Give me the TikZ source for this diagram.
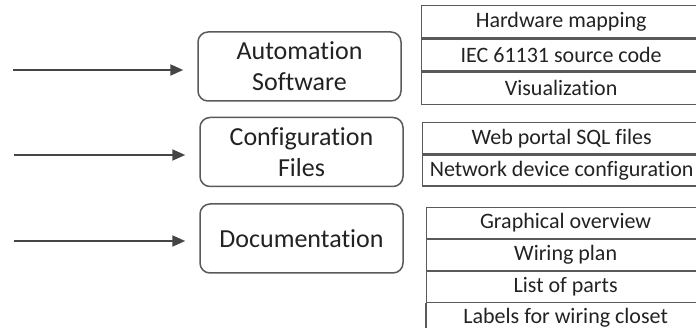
\documentclass[tikz,border=0pt]{standalone}
\usepackage{fontspec}
\setmainfont{Carlito}[Ligatures=NoCommon]
\usetikzlibrary{arrows.meta}
\definecolor{lineg}{HTML}{5A5A5A}
\definecolor{arrg}{HTML}{454545}
\definecolor{txt}{HTML}{222222}
\tikzset{
  mainbox/.style={draw=lineg, line width=1.5pt, rounded corners=10pt, minimum width=203pt, minimum height=69pt, align=center, text=txt, font=\fontsize{26}{31}\selectfont, inner sep=0pt},
  rowbox/.style={draw=lineg, line width=1.3pt, minimum height=32pt, anchor=north west, text=txt, font=\fontsize{22}{26}\selectfont, inner sep=0pt},
  tableline/.style={draw=lineg, line width=1.3pt},
  feed/.style={draw=arrg, line width=2pt, -{Triangle[length=13pt,width=11pt]}, shorten >=14pt}
}
\begin{document}
\begin{tikzpicture}[x=1pt,y=-1pt]
\useasboundingbox (0,0) rectangle (696,328);
\clip (0,0) rectangle (696,328);
% main boxes
\node[mainbox] (b1) at (299.5,66.5) {Automation\\Software};
\node[mainbox] (b2) at (301.5,152) {Configuration\\Files};
\node[mainbox] (b3) at (301.5,238.5) {Documentation};
% arrow starts
\coordinate (s1) at (13,70);
\coordinate (s2) at (14,155);
\coordinate (s3) at (14,241);
\draw[feed] (s1) -- (s1 -| b1.west);
\draw[feed] (s2) -- (s2 -| b2.west);
\draw[feed] (s3) -- (s3 -| b3.west);
% table 1
\node[rowbox, minimum width=279pt] (t11) at (421,5) {Hardware mapping};
\node[rowbox, minimum width=279pt] (t12) at (t11.south west) {IEC 61131 source code};
\node[rowbox, minimum width=279pt] (t13) at (t12.south west) {Visualization};
% table 2
\node[rowbox, minimum width=278pt, minimum height=31pt] (t21) at (422,122) {Web portal SQL files};
\node[rowbox, minimum width=278pt, minimum height=31pt] (t22) at (t21.south west) {Network device configuration};
% table 3
\node[rowbox, minimum width=278pt, minimum height=30.7pt] (t31) at (426,207) {Graphical overview};
\node[rowbox, minimum width=278pt, minimum height=30.7pt] (t32) at (t31.south west) {Wiring plan};
\node[rowbox, minimum width=278pt, minimum height=30.7pt] (t33) at (t32.south west) {List of parts};
\node[rowbox, draw=none, minimum width=278pt, minimum height=28pt] (t34) at (t33.south west) {Labels for wiring closet};
\draw[tableline] (t33.south west) -- ([yshift=-4pt]t34.south west);
\end{tikzpicture}
\end{document}
